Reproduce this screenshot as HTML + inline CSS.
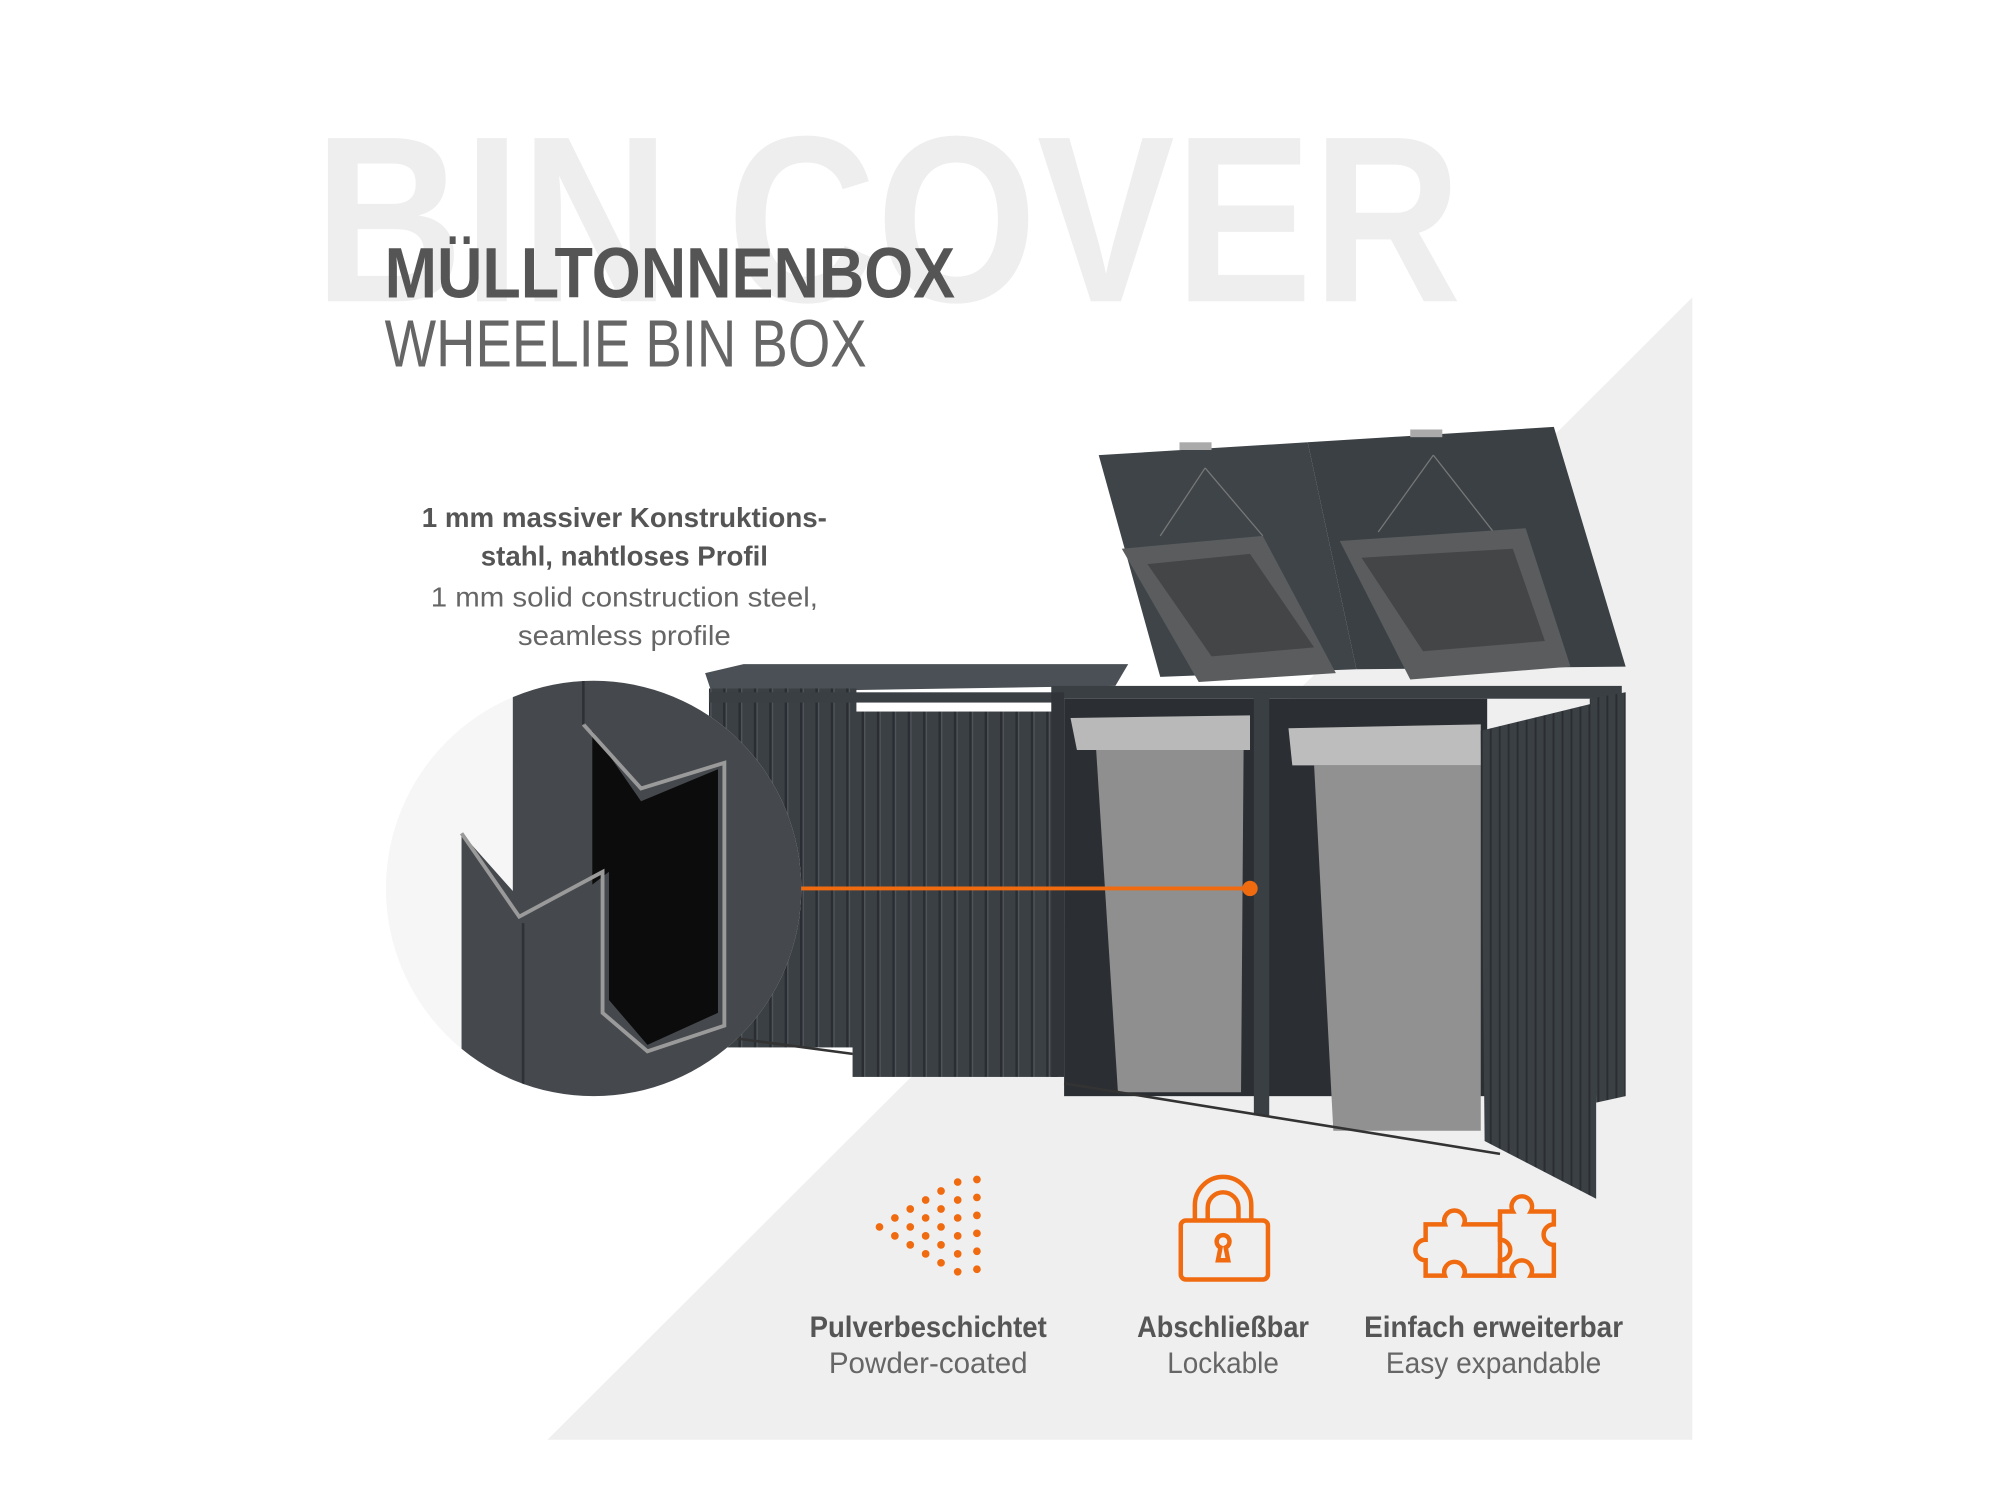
<!DOCTYPE html>
<html><head><meta charset="utf-8"><style>html,body{margin:0;padding:0;background:#fff}svg{display:block}</style></head>
<body>
<svg width="2000" height="1500" viewBox="0 0 1560 1170" xmlns="http://www.w3.org/2000/svg" font-family="'Liberation Sans',sans-serif">
<defs>
<pattern id="st" width="12" height="10" patternUnits="userSpaceOnUse"><rect width="12" height="10" fill="#3b4045"/><rect width="2" height="10" fill="#2a2e32"/><rect x="2" width="1" height="10" fill="#50565b"/></pattern>
<pattern id="st2" width="7" height="10" patternUnits="userSpaceOnUse"><rect width="7" height="10" fill="#3b4045"/><rect width="1.5" height="10" fill="#2a2e32"/></pattern>
<clipPath id="cc"><circle cx="463" cy="693" r="162"/></clipPath>
</defs>
<rect width="1560" height="1170" fill="#fff"/>
<polygon points="1320,232 1320,1123 427,1123" fill="#efefef"/>
<text x="245" y="235" font-size="185" font-weight="bold" fill="#eeeeee" textLength="895" lengthAdjust="spacingAndGlyphs">BIN COVER</text>
<text x="300" y="232" font-size="56" font-weight="bold" fill="#555" textLength="445" lengthAdjust="spacingAndGlyphs">MÜLLTONNENBOX</text>
<text x="300" y="286" font-size="52" fill="#666" textLength="376" lengthAdjust="spacingAndGlyphs">WHEELIE BIN BOX</text>
<g font-size="22" text-anchor="middle">
<text x="487" y="411" fill="#555" font-weight="bold" textLength="316" lengthAdjust="spacingAndGlyphs">1 mm massiver Konstruktions-</text>
<text x="487" y="441" fill="#555" font-weight="bold" textLength="224" lengthAdjust="spacingAndGlyphs">stahl, nahtloses Profil</text>
<text x="487" y="473" fill="#666" textLength="302" lengthAdjust="spacingAndGlyphs">1 mm solid construction steel,</text>
<text x="487" y="503" fill="#666" textLength="166" lengthAdjust="spacingAndGlyphs">seamless profile</text>
</g>
<!-- box product -->
<polygon points="550,525 580,518 880,518 870,535 555,540" fill="#4a5055"/>
<rect x="553" y="537" width="115" height="280" fill="url(#st)"/>
<rect x="553" y="540" width="270" height="8" fill="#3a3f44"/>
<rect x="820" y="535" width="445" height="10" fill="#3a3f44"/>
<rect x="830" y="545" width="330" height="310" fill="#2b2e32"/>
<polygon points="857,355 1020,345 1058,522 905,528" fill="#3e4448"/>
<polygon points="1020,345 1212,333 1268,520 1058,522" fill="#3a4044"/>
<rect x="920" y="345" width="25" height="6" fill="#aaa"/><rect x="1100" y="335" width="25" height="6" fill="#aaa"/>
<polyline points="940,365 905,418" stroke="#777" fill="none"/><polyline points="940,365 985,418" stroke="#777" fill="none"/>
<polyline points="1118,355 1075,415" stroke="#777" fill="none"/><polyline points="1118,355 1165,415" stroke="#777" fill="none"/>
<polygon points="875,428 985,418 1042,525 935,532" fill="#5a5c5e"/>
<polygon points="895,440 975,432 1025,505 945,512" fill="#434547"/>
<polygon points="1045,422 1190,412 1225,520 1100,530" fill="#5a5c5e"/>
<polygon points="1062,435 1180,428 1205,500 1110,508" fill="#434547"/>
<rect x="665" y="555" width="160" height="285" fill="url(#st)"/>
<rect x="820" y="540" width="10" height="300" fill="#31353a"/>
<polygon points="835,560 975,558 975,585 840,585" fill="#b9b9b9"/>
<polygon points="855,585 970,585 968,852 872,852" fill="#8f8f8f"/>
<polygon points="1005,568 1155,565 1155,597 1008,597" fill="#bdbdbd"/>
<polygon points="1025,597 1155,597 1155,882 1040,882" fill="#919191"/>
<rect x="978" y="540" width="12" height="330" fill="#3a3f44"/>
<polygon points="1240,545 1268,540 1268,855 1245,860" fill="url(#st2)"/>
<polygon points="1155,570 1245,548 1245,935 1158,890" fill="url(#st2)"/>
<line x1="830" y1="845" x2="1170" y2="900" stroke="#333" stroke-width="2"/>
<line x1="575" y1="810" x2="665" y2="822" stroke="#333" stroke-width="2"/>
<!-- circle detail -->
<circle cx="463" cy="693" r="162" fill="#f6f6f6"/>
<g clip-path="url(#cc)">
<polygon points="400,520 640,520 640,870 360,870 360,650 400,695" fill="#45494d"/>
<polygon points="462,570 500,625 560,600 560,790 505,815 475,780 475,680 462,690" fill="#0c0c0c"/>
<polyline points="455,565 500,615 565,595 565,800 505,820 470,790 470,680 405,715 360,650" fill="none" stroke="#9a9a9a" stroke-width="3"/>
<line x1="408" y1="720" x2="408" y2="870" stroke="#2e3236" stroke-width="2"/>
<line x1="455" y1="530" x2="455" y2="565" stroke="#2e3236" stroke-width="2"/>
</g>
<line x1="625" y1="693" x2="975" y2="693" stroke="#f06a10" stroke-width="3"/>
<circle cx="975" cy="693" r="6" fill="#f06a10"/>
<!-- icons -->
<g fill="#f06a10">
<circle cx="686" cy="957" r="3"/>
<circle cx="698" cy="950" r="3"/><circle cx="698" cy="964" r="3"/>
<circle cx="710" cy="943" r="3"/><circle cx="710" cy="957" r="3"/><circle cx="710" cy="971" r="3"/>
<circle cx="722" cy="936" r="3"/><circle cx="722" cy="950" r="3"/><circle cx="722" cy="964" r="3"/><circle cx="722" cy="978" r="3"/>
<circle cx="734" cy="929" r="3"/><circle cx="734" cy="943" r="3"/><circle cx="734" cy="957" r="3"/><circle cx="734" cy="971" r="3"/><circle cx="734" cy="985" r="3"/>
<circle cx="747" cy="922" r="3"/><circle cx="747" cy="936" r="3"/><circle cx="747" cy="950" r="3"/><circle cx="747" cy="964" r="3"/><circle cx="747" cy="978" r="3"/><circle cx="747" cy="992" r="3"/>
<circle cx="762" cy="920" r="3"/><circle cx="762" cy="934" r="3"/><circle cx="762" cy="948" r="3"/><circle cx="762" cy="962" r="3"/><circle cx="762" cy="976" r="3"/><circle cx="762" cy="990" r="3"/>
</g>
<g fill="none" stroke="#f06a10" stroke-width="3.5">
<path d="M932,952 V940 a22,22 0 0 1 44,0 V952 M942,952 V942 a12,12 0 0 1 24,0 V952"/>
<rect x="921" y="952" width="68" height="46" rx="4"/>
<path d="M950,983 l2,-10 a5,5 0 1 1 4,0 l2,10 z"/>
<path d="M1112,955 h15 a8,8 0 1 1 15,0 h28 v40 h-28 a8,8 0 1 0 -15,0 h-15 v-12 a7,7 0 1 1 0,-16 z"/>
<path d="M1170,955 v-10 h10 a8,8 0 1 1 14,0 h18 v10 a7,7 0 1 0 0,16 v24 h-18 a8,8 0 1 0 -14,0 h-10 v-12 a7,7 0 1 0 0,-16 z"/>
</g>
<g font-size="23" text-anchor="middle">
<text x="724" y="1043" fill="#555" font-weight="bold" textLength="185" lengthAdjust="spacingAndGlyphs">Pulverbeschichtet</text>
<text x="724" y="1071" fill="#666" textLength="155" lengthAdjust="spacingAndGlyphs">Powder-coated</text>
<text x="954" y="1043" fill="#555" font-weight="bold" textLength="134" lengthAdjust="spacingAndGlyphs">Abschließbar</text>
<text x="954" y="1071" fill="#666" textLength="87" lengthAdjust="spacingAndGlyphs">Lockable</text>
<text x="1165" y="1043" fill="#555" font-weight="bold" textLength="202" lengthAdjust="spacingAndGlyphs">Einfach erweiterbar</text>
<text x="1165" y="1071" fill="#666" textLength="168" lengthAdjust="spacingAndGlyphs">Easy expandable</text>
</g>
</svg>
</body></html>
